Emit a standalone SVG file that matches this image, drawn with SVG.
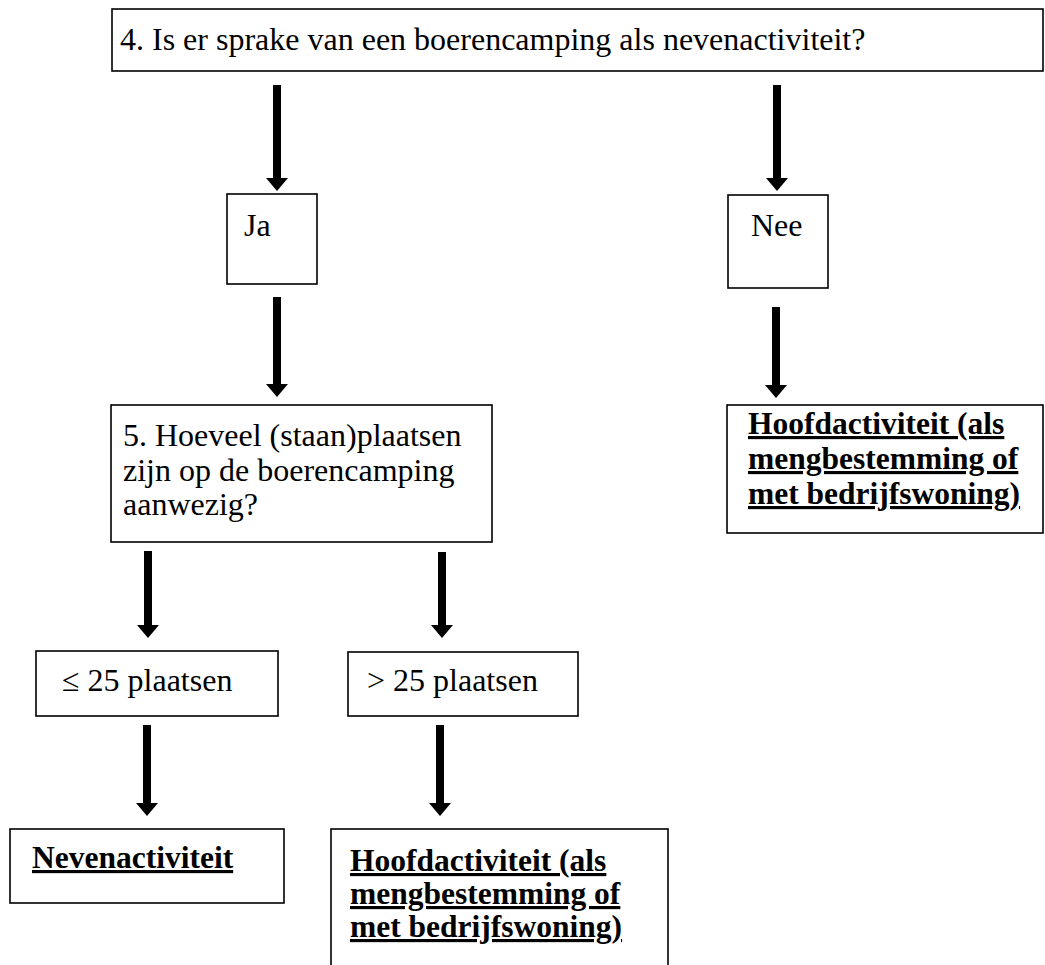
<svg xmlns="http://www.w3.org/2000/svg" width="1045" height="965" viewBox="0 0 1045 965">
<style>
.box{fill:#fff;stroke:#000;stroke-width:1.6}
.t{font-family:"Liberation Serif","Times New Roman",serif;font-size:32px;fill:#000}
.b{font-weight:bold;font-size:31.5px;text-decoration:underline}
.arr{fill:#000}
</style>
<defs>
<polygon id="ar" points="-11,-13 11,-13 0,0"/>
</defs>
<rect width="1045" height="965" fill="#fff"/>
<g id="q4">
<rect class="box" x="112" y="9" width="931" height="62"/>
<text class="t" x="120" y="50">4. Is er sprake van een boerencamping als nevenactiviteit?</text>
</g>
<g id="ja">
<rect class="box" x="227" y="194" width="90" height="90"/>
<text class="t" x="244" y="236">Ja</text>
</g>
<g id="nee">
<rect class="box" x="728" y="195" width="100" height="93"/>
<text class="t" x="751" y="236">Nee</text>
</g>
<g id="q5">
<rect class="box" x="111" y="405" width="381" height="137"/>
<text class="t" x="123" y="446">5. Hoeveel (staan)plaatsen</text>
<text class="t" x="123" y="481">zijn op de boerencamping</text>
<text class="t" x="123" y="515">aanwezig?</text>
</g>
<g id="hoofd1">
<rect class="box" x="727" y="405" width="316" height="128"/>
<text class="t b" x="748" y="434">Hoofdactiviteit (als</text>
<text class="t b" x="748" y="469">mengbestemming of</text>
<text class="t b" x="748" y="504">met bedrijfswoning)</text>
</g>
<g id="le25">
<rect class="box" x="36" y="651" width="242" height="65"/>
<text class="t" x="62" y="691">≤ 25 plaatsen</text>
</g>
<g id="gt25">
<rect class="box" x="348" y="652" width="230" height="64"/>
<text class="t" x="367" y="691">&gt; 25 plaatsen</text>
</g>
<g id="neven">
<rect class="box" x="10" y="829" width="274" height="74"/>
<text class="t b" x="32" y="868">Nevenactiviteit</text>
</g>
<g id="hoofd2">
<rect class="box" x="331" y="829" width="337" height="150"/>
<text class="t b" x="350" y="871">Hoofdactiviteit (als</text>
<text class="t b" x="350" y="904">mengbestemming of</text>
<text class="t b" x="350" y="937">met bedrijfswoning)</text>
</g>
<g id="connectors" class="arr">
<rect x="273" y="85" width="8" height="94"/><use href="#ar" x="277" y="191"/>
<rect x="773" y="85" width="8" height="94"/><use href="#ar" x="777" y="191"/>
<rect x="273" y="297" width="8" height="88"/><use href="#ar" x="277" y="397"/>
<rect x="772" y="307" width="8" height="79"/><use href="#ar" x="776" y="398"/>
<rect x="144" y="551" width="8" height="76"/><use href="#ar" x="148" y="638"/>
<rect x="438" y="552" width="8" height="75"/><use href="#ar" x="442" y="638"/>
<rect x="143" y="725" width="8" height="80"/><use href="#ar" x="147" y="816"/>
<rect x="436" y="725" width="8" height="80"/><use href="#ar" x="440" y="816"/>
</g>
</svg>
